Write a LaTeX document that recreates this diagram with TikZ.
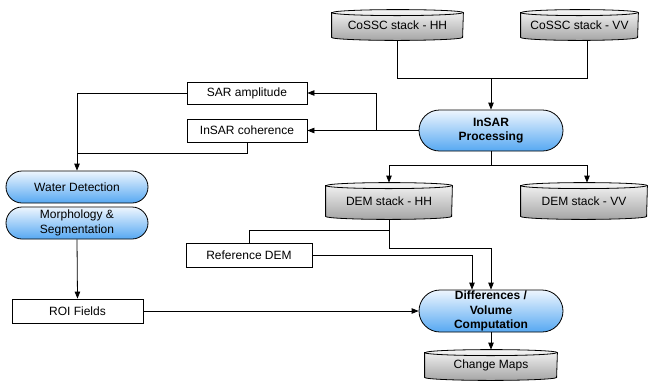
\documentclass[tikz,border=0pt]{standalone}
\usepackage{fontspec}
\setmainfont{Liberation Sans}
\usetikzlibrary{shapes.misc,arrows.meta,backgrounds}
\definecolor{pilltop}{RGB}{238,246,254}
\definecolor{pillbot}{RGB}{86,168,242}
\definecolor{cyltop}{RGB}{246,246,246}
\definecolor{cylbot}{RGB}{165,165,165}
\newcommand{\cylbody}[2]{%
  \path[draw=black, line width=0.8pt, top color=cyltop, bottom color=cylbot]
    ([yshift=-3pt]#1.north west) -- ([yshift=3pt]#1.south west)
    arc[start angle=180, end angle=360, x radius=#2, y radius=3pt]
    -- ([yshift=-3pt]#1.north east)
    arc[start angle=0, end angle=180, x radius=#2, y radius=3pt] -- cycle;
  \draw[line width=0.8pt] ([yshift=-3pt]#1.north west)
    arc[start angle=180, end angle=360, x radius=#2, y radius=3pt];
}
\begin{document}
\begin{tikzpicture}[x=1pt, y=-1pt,
  font=\fontsize{12}{14.5}\selectfont,
  line width=0.8pt,
  arr/.style={-{Triangle[length=7pt,width=5.5pt]}},
  box/.style={draw, rectangle, inner sep=0pt, fill=white},
  pill/.style={draw, rounded rectangle, inner sep=0pt, align=center,
    top color=pilltop, bottom color=pillbot},
  bold/.style={font=\fontsize{12}{14.5}\selectfont\bfseries},
  cyl/.style={inner sep=0pt, align=center}
]
\useasboundingbox (0,0) rectangle (649,384);
\begin{scope}[on background layer]
  \fill[white] (0,0) rectangle (649,384);
\end{scope}

% cylinders (data stores)
\node[cyl, minimum width=131, minimum height=30] (cosschh) at (397.5,25) {CoSSC stack - HH};
\node[cyl, minimum width=117, minimum height=30] (cosscvv) at (579.5,25) {CoSSC stack - VV};
\node[cyl, minimum width=126, minimum height=36] (demhh) at (389,201) {DEM stack - HH};
\node[cyl, minimum width=126, minimum height=36] (demvv) at (584,201) {DEM stack - VV};
\node[cyl, minimum width=132, minimum height=30] (cm) at (491,365) {Change Maps};

% process pills
\node[pill, bold, minimum width=144, minimum height=41] (insar) at (491,130.5) {InSAR\\Processing};
\node[pill, minimum width=142, minimum height=32] (water) at (77,187) {Water Detection};
\node[pill, minimum width=142, minimum height=32] (morph) at (77,223) {Morphology \&\\Segmentation};
\node[pill, bold, minimum width=144, minimum height=42] (diff) at (491,311) {Differences /\\Volume\\Computation};

% boxes
\node[box, minimum width=120, minimum height=22] (sar) at (247,93) {SAR amplitude};
\node[box, minimum width=120, minimum height=23] (coh) at (247,130.5) {InSAR coherence};
\node[box, minimum width=126, minimum height=24] (ref) at (249,255) {Reference DEM};
\node[box, minimum width=131, minimum height=24] (roi) at (77.5,311) {ROI Fields};

\begin{scope}[on background layer]
  \cylbody{cosschh}{65.5pt}
  \cylbody{cosscvv}{58.5pt}
  \cylbody{demhh}{63pt}
  \cylbody{demvv}{63pt}
  \cylbody{cm}{66pt}
\end{scope}

% junction points
\coordinate (j1) at (491,78);
\coordinate (j2) at (376,130.5);
\coordinate (j3) at (77,153);
\coordinate (j4) at (491,165);
\coordinate (j5) at (389,230);
\coordinate (j6) at (389,248);

% connectors
\draw (cosschh.south) |- (j1);
\draw ([xshift=7.5pt]cosscvv.south) |- (j1);
\draw[arr] (j1) -- (insar.north);

\draw[arr] (insar.west) -- (coh.east);
\draw[arr] (j2) |- (sar.east);

\draw[arr] (sar.west) -| (water.north);
\draw (coh.south) |- (j3);

\draw[arr] (morph.south) -- (roi.north);
\draw[arr] (roi.east) -- (diff.west);

\draw (insar.south) -- (j4);
\draw[arr] (j4) -| (demhh.north);
\draw[arr] (j4) -| ([xshift=3pt]demvv.north);

\draw (demhh.south) -- (j5) -| (ref.north);
\draw[arr] (j5) -- (j6) -| (diff.north);
\draw[arr] (ref.east) -| ([xshift=-19pt]diff.north);

\draw[arr] (diff.south) -- (cm.north);
\end{tikzpicture}
\end{document}
